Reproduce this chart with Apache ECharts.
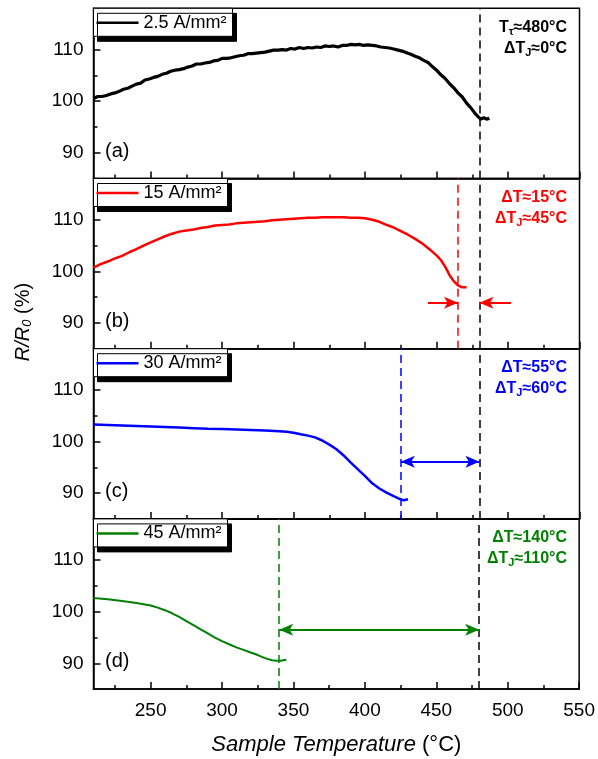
<!DOCTYPE html>
<html>
<head>
<meta charset="utf-8">
<script src="https://cdn.jsdelivr.net/npm/echarts@6/dist/echarts.min.js"></script>
<style>
  html, body { margin: 0; padding: 0; background: #ffffff; }
  #chart { width: 598px; height: 759px; }
</style>
</head>
<body>
<div id="chart"></div>
<script>
// Resistance ratio R/R0 (%) versus sample temperature (°C) for four current densities.
const seriesNames = ['2.5 A/mm²', '15 A/mm²', '30 A/mm²', '45 A/mm²'];
const seriesColors = ['#000000', '#ff0000', '#0000ff', '#008000'];
const panelLetters = ['(a)', '(b)', '(c)', '(d)'];

// [temperature, R/R0] samples
const curve25 = [
  [210,100.5],[213,100.9],[216,100.9],[219,101.1],[222,101.4],[225,101.6],[228,101.9],[231,102.3],
  [234,102.5],[237,102.9],[240,103.3],[243,103.5],[246,104.1],[249,104.3],[252,104.6],[255,104.8],
  [258,105.2],[261,105.4],[264,105.8],[267,106.0],[270,106.1],[273,106.3],[276,106.6],[279,106.8],
  [282,107.2],[285,107.2],[288,107.4],[291,107.5],[294,107.8],[297,107.9],[300,108.3],[303,108.3],
  [306,108.4],[309,108.6],[312,108.8],[315,108.9],[318,109.2],[321,109.2],[324,109.3],[327,109.4],
  [330,109.5],[333,109.7],[336,109.9],[339,109.9],[342,110.0],[345,109.9],[348,110.2],[351,110.1],
  [354,110.4],[357,110.2],[360,110.4],[363,110.3],[366,110.5],[369,110.4],[372,110.7],[375,110.6],
  [378,110.7],[381,110.5],[384,110.8],[387,110.8],[390,111.0],[393,110.9],[396,111.0],[399,110.8],
  [402,110.9],[405,110.8],[408,110.7],[411,110.5],[414,110.4],[417,110.3],[420,110.1],[423,109.9],
  [426,109.7],[429,109.4],[432,109.1],[435,108.7],[438,108.4],[441,107.9],[444,107.5],[447,106.7],
  [450,106.0],[453,105.1],[456,104.4],[459,103.4],[462,102.6],[465,101.6],[468,100.8],[471,99.6],
  [474,98.7],[477,97.6],[479,97.0],[481,96.5],[483,96.8],[485,96.5],[487,96.7]
];
const curve15 = [
  [210,100.7],[215,101.4],[220,101.9],[225,102.5],[230,103.0],[235,103.7],[240,104.3],[245,105.0],
  [250,105.6],[255,106.2],[260,106.8],[265,107.3],[270,107.7],[275,107.9],[280,108.1],[285,108.4],
  [290,108.6],[295,108.9],[300,109.0],[305,109.1],[310,109.3],[315,109.4],[320,109.5],[325,109.6],
  [330,109.7],[335,109.9],[340,110.0],[345,110.1],[350,110.2],[355,110.3],[360,110.4],[365,110.4],
  [370,110.5],[375,110.5],[380,110.5],[385,110.5],[390,110.4],[395,110.4],[400,110.3],[405,110.0],
  [410,109.6],[415,109.0],[420,108.5],[425,107.8],[430,107.1],[435,106.3],[440,105.4],[445,104.3],
  [450,103.1],[453,102.2],[456,100.9],[459,99.3],[462,98.1],[465,97.3],[468,96.9],[471,96.9]
];
const curve30 = [
  [210,103.3],[220,103.2],[230,103.1],[240,103.0],[250,102.9],[260,102.8],[270,102.7],[280,102.6],
  [290,102.5],[300,102.45],[310,102.35],[320,102.25],[330,102.15],[340,102.0],[345,101.9],[350,101.7],
  [355,101.4],[360,101.15],[365,100.8],[370,100.2],[375,99.4],[380,98.5],[385,97.3],[390,95.9],
  [395,94.6],[400,93.3],[405,91.9],[410,90.9],[415,90.1],[420,89.4],[424,88.9],[427,88.6],[430,88.8]
];
const curve45 = [
  [210,102.65],[220,102.4],[230,102.1],[240,101.7],[250,101.2],[255,100.8],[260,100.3],[265,99.7],
  [270,99.0],[275,98.2],[280,97.4],[285,96.6],[290,95.8],[295,95.0],[300,94.3],[305,93.7],
  [310,93.1],[315,92.6],[320,92.1],[325,91.6],[330,91.0],[335,90.6],[338,90.5],[341,90.5],[345,90.7]
];
const curves = [curve25, curve15, curve30, curve45];

// Transition temperature of the reference run and the shift of each run below it
const tTau = 480;
const deltaT = [0, 15, 55, 140];
const deltaTJ = [0, 45, 60, 110];
// Height (R/R0) at which the shift arrows are drawn
const arrowLevel = [null, 93.9, 96.1, 96.5];
// Outer start points of the two converging arrows in panel (b)
const pinchArrowsB = [444, 502];

// Axis ranges and ticks
const xMin = 210, xMax = 550;
const yMin = 85, yMax = 118;
const xMajorTicks = [250, 300, 350, 400, 450, 500, 550];
const xMinorTicks = [225, 275, 325, 375, 425, 475, 525];
const yMajorTicks = [90, 100, 110];
const yMinorTicks = [95, 105];

// Layout
const FONT = '"Liberation Sans", Arial, Helvetica, sans-serif';
const GRID_LEFT = 93.5, GRID_RIGHT = 18.5, PANEL_TOP = 8.3, PANEL_H = 170.2;
const AXIS_W = 1.5;

function noteLines(i) {
  const first = i === 0 ? 'T_τ≈' + tTau + '°C' : 'ΔT≈' + deltaT[i] + '°C';
  const second = 'ΔT_J≈' + deltaTJ[i] + '°C';
  return [first, second].map(s => '{m|' + s.replace(/_(\S)/, '}{s|$1}{m|') + '}');
}

const grids = [], xAxes = [], yAxes = [], series = [], legends = [], graphics = [];

curves.forEach((pts, i) => {
  const top = PANEL_TOP + i * PANEL_H;
  const last = i === curves.length - 1;
  const color = seriesColors[i];

  grids.push({ left: GRID_LEFT, right: GRID_RIGHT, top: top, height: PANEL_H,
    show: true, borderColor: '#000', borderWidth: AXIS_W, backgroundColor: 'transparent' });

  const baseX = { gridIndex: i, type: 'value', min: xMin, max: xMax, position: 'bottom',
    splitLine: { show: false } };
  xAxes.push(Object.assign({}, baseX, {
    axisLine: { show: true, onZero: false, lineStyle: { color: '#000', width: AXIS_W } },
    axisTick: { show: true, inside: true, length: 7, customValues: xMajorTicks,
      lineStyle: { color: '#000', width: AXIS_W } },
    axisLabel: { show: last, customValues: xMajorTicks, margin: 12, fontSize: 19,
      color: '#000', fontFamily: FONT },
    name: last ? '{it|Sample Temperature} (°C)' : '',
    nameLocation: 'middle', nameGap: 45,
    nameTextStyle: { fontSize: 22, color: '#000', fontFamily: FONT,
      rich: { it: { fontStyle: 'italic', fontSize: 22, color: '#000', fontFamily: FONT } } }
  }));
  xAxes.push(Object.assign({}, baseX, {
    axisLine: { show: false },
    axisTick: { show: true, inside: true, length: 4, customValues: xMinorTicks,
      lineStyle: { color: '#000', width: AXIS_W } },
    axisLabel: { show: false }
  }));

  const baseY = { gridIndex: i, type: 'value', min: yMin, max: yMax, position: 'left',
    splitLine: { show: false } };
  yAxes.push(Object.assign({}, baseY, {
    axisLine: { show: true, onZero: false, lineStyle: { color: '#000', width: AXIS_W } },
    axisTick: { show: true, inside: true, length: 7, customValues: yMajorTicks,
      lineStyle: { color: '#000', width: AXIS_W } },
    axisLabel: { show: true, customValues: yMajorTicks, margin: 10, fontSize: 19,
      color: '#000', fontFamily: FONT }
  }));
  yAxes.push(Object.assign({}, baseY, {
    axisLine: { show: false },
    axisTick: { show: true, inside: true, length: 4, customValues: yMinorTicks,
      lineStyle: { color: '#000', width: AXIS_W } },
    axisLabel: { show: false }
  }));

  // Vertical dashed markers and shift arrows
  const dash = [8, 5];
  const markData = [
    { xAxis: tTau, lineStyle: { color: '#000', type: dash, width: 1.5 } }
  ];
  const onset = tTau - deltaT[i];
  if (i > 0) {
    markData.push({ xAxis: onset, lineStyle: { color: color, type: dash, width: 1.5 } });
    const arrowStyle = { color: color, type: 'solid', width: 2 };
    const head = { symbol: 'arrow', symbolSize: [9, 14] };
    if (i === 1) {
      markData.push([
        { coord: [pinchArrowsB[0], arrowLevel[i]], symbol: 'none', lineStyle: arrowStyle },
        Object.assign({ coord: [onset, arrowLevel[i]], lineStyle: arrowStyle }, head)
      ]);
      markData.push([
        { coord: [pinchArrowsB[1], arrowLevel[i]], symbol: 'none', lineStyle: arrowStyle },
        Object.assign({ coord: [tTau, arrowLevel[i]], lineStyle: arrowStyle }, head)
      ]);
    } else {
      markData.push([
        Object.assign({ coord: [onset, arrowLevel[i]], lineStyle: arrowStyle }, head),
        Object.assign({ coord: [tTau, arrowLevel[i]], lineStyle: arrowStyle }, head)
      ]);
    }
  }

  series.push({
    name: seriesNames[i], type: 'line', xAxisIndex: 2 * i, yAxisIndex: 2 * i,
    data: pts, symbol: 'none', showSymbol: false, smooth: false,
    lineStyle: { color: color, width: i === 0 ? 3.2 : (i === 3 ? 2 : 2.5) },
    itemStyle: { color: color },
    z: 3,
    markLine: { silent: true, animation: false, symbol: ['none', 'none'],
      label: { show: false }, emphasis: { disabled: true }, data: markData }
  });

  legends.push({
    data: [seriesNames[i]], left: GRID_LEFT, top: top, orient: 'horizontal',
    icon: 'rect', itemWidth: 42, itemHeight: 2.5, itemGap: 0,
    padding: [5, 6, 4, 3], backgroundColor: '#fff', borderColor: '#000', borderWidth: 1,
    borderRadius: 0, shadowColor: '#000', shadowBlur: 0, shadowOffsetX: 4, shadowOffsetY: 5,
    selectedMode: false,
    textStyle: { fontSize: 18, color: '#000', fontFamily: FONT, lineHeight: 19 }
  });

  // Panel letter
  graphics.push({ type: 'text', x: 105, y: top + 143, z: 10,
    style: { text: panelLetters[i], fill: '#000', fontSize: 20, fontFamily: FONT,
      align: 'left', verticalAlign: 'middle' } });

  // Right-hand annotation
  noteLines(i).forEach((line, k) => {
    graphics.push({ type: 'text', x: 567, y: top + 19 + k * 21, z: 10,
      style: { text: line, align: 'right', verticalAlign: 'middle', fill: color,
        rich: {
          m: { fontSize: 16, fontWeight: 'bold', fontFamily: FONT, fill: color, lineHeight: 20 },
          s: { fontSize: 11, fontWeight: 'bold', fontFamily: FONT, fill: color,
            lineHeight: 8, verticalAlign: 'bottom' }
        } } });
  });
});

// Shared vertical axis title
graphics.push({ type: 'text', x: 23, y: 322, rotation: Math.PI / 2, z: 10,
  style: { text: '{i|R/R}{is|0}{n| (%)}', align: 'center', verticalAlign: 'middle',
    rich: {
      i: { fontSize: 20, fontStyle: 'italic', fontFamily: FONT, fill: '#000', lineHeight: 22 },
      is: { fontSize: 13, fontStyle: 'italic', fontFamily: FONT, fill: '#000', lineHeight: 10,
        verticalAlign: 'bottom' },
      n: { fontSize: 20, fontFamily: FONT, fill: '#000', lineHeight: 22 }
    } } });

const chart = echarts.init(document.getElementById('chart'), null, { renderer: 'canvas' });
chart.setOption({
  animation: false,
  backgroundColor: '#ffffff',
  grid: grids,
  xAxis: xAxes,
  yAxis: yAxes,
  legend: legends,
  series: series,
  graphic: graphics
});
</script>
</body>
</html>
